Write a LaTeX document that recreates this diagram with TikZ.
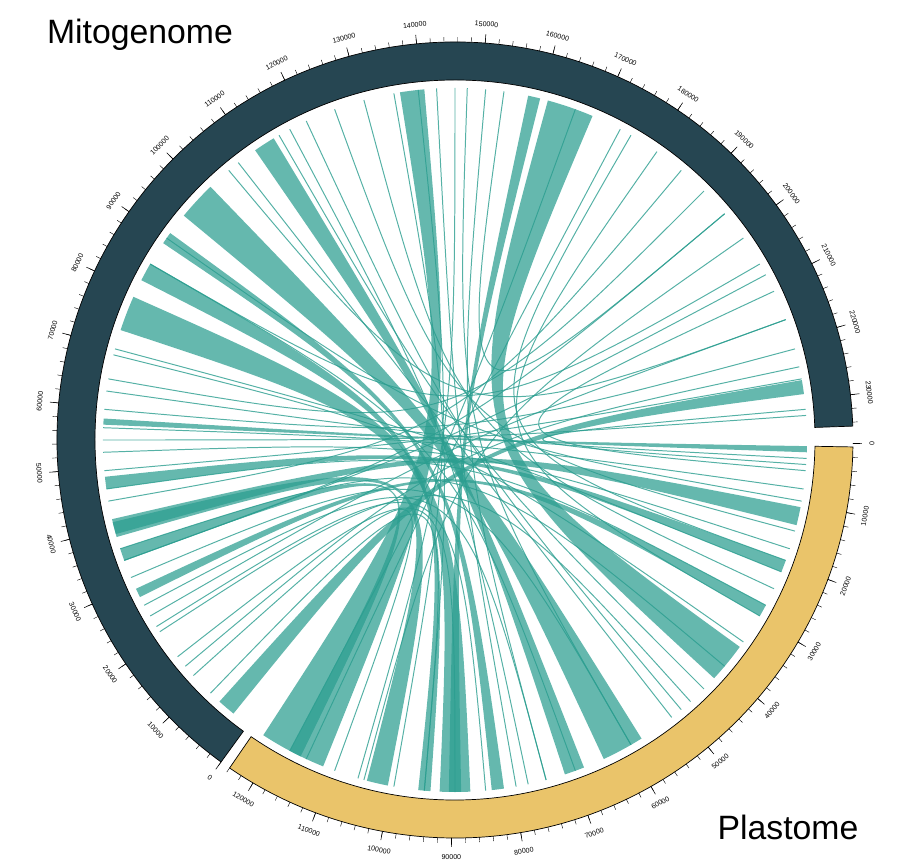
\documentclass[tikz,border=0pt]{standalone}
\usepackage{fontspec}
\setmainfont{Liberation Sans}
\begin{document}
\begin{tikzpicture}[x=0.025cm,y=0.025cm]
\tikzset{
 mito/.style={fill={rgb,255:red,38;green,70;blue,82},draw=black,line width=0.5pt},
 plast/.style={fill={rgb,255:red,234;green,196;blue,106},draw=black,line width=0.5pt},
 chordfill/.style={fill={rgb,255:red,42;green,157;blue,143},fill opacity=0.72},
 chordline/.style={draw={rgb,255:red,42;green,157;blue,143},line width=0.7pt,draw opacity=0.8},
 tl/.style={font=\fontsize{5}{6}\selectfont,inner sep=0pt},
 title/.style={font=\fontsize{24}{28}\selectfont,inner sep=0pt}
}
\useasboundingbox (-455,-420) rectangle (445,440);
\newcommand\ribbon[4]{\fill[chordfill] (#1:352) arc[start angle=#1,end angle=#2,radius=352] .. controls (0,0) .. (#3:352) arc[start angle=#3,end angle=#4,radius=352] .. controls (0,0) .. (#1:352);}
\newcommand\chordln[2]{\draw[chordline] (#1:352) .. controls (0,0) .. (#2:352);}
% rings
\path[mito] (234:398) arc[start angle=234,end angle=2,radius=398] -- (2:360) arc[start angle=2,end angle=234,radius=360] -- cycle;
\path[plast] (-1:398) arc[start angle=-1,end angle=-124.5,radius=398] -- (-124.5:360) arc[start angle=-124.5,end angle=-1,radius=360] -- cycle;
% ticks mito
\foreach \k in {0,...,117}{\pgfmathsetmacro\a{234-\k*1.978}\draw[line width=0.3pt] (\a:398)--(\a:403);}
\foreach \k in {0,...,23}{\pgfmathsetmacro\a{234-\k*9.89}
 \pgfmathsetmacro\r{ifthenelse(sin(\a)<0,\a+90,\a-90)}
 \draw[line width=0.4pt] (\a:398)--(\a:407);
 \node[tl,rotate=\r] at (\a:417) {\ifnum\k=0 0\else\k0000\fi};}
% ticks plastome
\foreach \k in {0,...,62}{\pgfmathsetmacro\a{-0.5-\k*2}\draw[line width=0.3pt] (\a:398)--(\a:403);}
\foreach \k in {0,...,12}{\pgfmathsetmacro\a{-0.5-\k*10}
 \pgfmathsetmacro\r{ifthenelse(sin(\a)<0,\a+90,\a-90)}
 \draw[line width=0.4pt] (\a:398)--(\a:407);
 \node[tl,rotate=\r] at (\a:417) {\ifnum\k=0 0\else\k0000\fi};}
% wide ribbons
\ribbon{67}{74.7}{-42.6}{-36}
\ribbon{134}{140.4}{-65}{-58}
\ribbon{121}{124.6}{-71.8}{-68.5}
\ribbon{156}{161.8}{-92.5}{-87.5}
\ribbon{-123}{-112}{95}{99}
\ribbon{-104.5}{-101}{193.5}{196}
\ribbon{-96}{-94}{150}{153}
\ribbon{7.5}{9.8}{228}{231}
\ribbon{-2}{-1}{176.5}{177.5}
\ribbon{-14}{-11}{193}{195.5}
\ribbon{-22}{-20}{186}{188}
\ribbon{-30}{-28}{205}{206.5}
\ribbon{-118}{-116}{198}{200}
\ribbon{76}{78}{-91}{-89}
\ribbon{-84}{-82}{144}{146}
% thin chords
\foreach \p/\q in {100/-95,96/-100,93/-80,88/-60,85/-75,82/40,60/-20,55/-30,50/190,45/170,40/200,30/150,25/-5,20/210,15/175,12/220,10/185,4/180,115/-50,120/-45,128/-52,130/20,110/-15,105/-25,145/-10,150/-70,165/-22,172/-3,178/-8,182/-18,188/-28,198/-40,203/-60,208/-75,212/-85,218/-90,222/-110,226/-95,62/-115,70/-118,35/-105,28/200,5/-4,118/-78,90/-106,166/-35,213/-48}{\chordln{\p}{\q}}
% titles
\node[title] at (-315,405) {Mitogenome};
\node[title] at (333,-387) {Plastome};
\end{tikzpicture}
\end{document}
